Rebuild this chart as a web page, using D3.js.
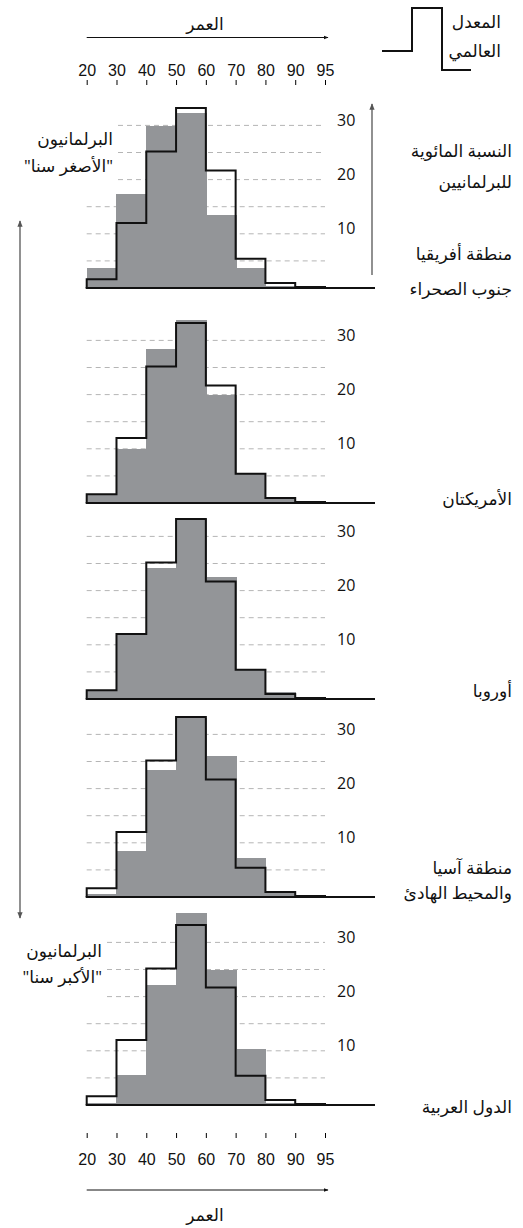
<!DOCTYPE html>
<html lang="ar">
<head>
<meta charset="utf-8">
<script src="https://cdn.jsdelivr.net/npm/d3@7"></script>
<style>
  body { margin: 0; background: #fff; }
  svg { display: block; font-family: "Open Sans", "DejaVu Sans", sans-serif; }
  .num { font-size: 16px; fill: #111; }
  .lbl { font-size: 17px; fill: #111; }
</style>
</head>
<body>
<div id="chart-area"></div>
<script>
// age bins 20-30 ... 90-95
const ageTicks = [20, 30, 40, 50, 60, 70, 80, 90, 95];

// world average (black step line), same in every panel
const world = [1.6, 12, 25.2, 33.2, 21.7, 5.4, 0.9, 0.2];

// regional shares (grey bars), percent of MPs
const africa   = [3.6, 17.3, 29.8, 32.2, 13.4, 3.7, 0.3, 0.1];
const americas = [1.5, 10.0, 28.5, 33.8, 20.0, 5.3, 1.0, 0.2];
const europe   = [1.6, 12.0, 24.1, 33.2, 22.5, 5.4, 1.2, 0.2];
const asia     = [0.6, 8.5, 23.4, 33.0, 26.0, 7.2, 0.8, 0.2];
const arab     = [0.3, 5.5, 22.1, 35.5, 25.0, 10.3, 0.3, 0.1];

const regionNames = [
  ["منطقة أفريقيا", "جنوب الصحراء"],
  ["الأمريكتان"],
  ["أوروبا"],
  ["منطقة آسيا", "والمحيط الهادئ"],
  ["الدول العربية"]
];
const regionValues = [africa, americas, europe, asia, arab];

const gridValues = [5, 10, 15, 20, 25, 30];
const labelValues = [10, 20, 30];

// layout
const w = 523, h = 1228;
const baselines = [288, 503, 699, 897, 1105];
const nameDy = [[-33, 2], [-3], [-7], [-28, -3], [3]];
const gridStartTop = [118, null, null, null, 107]; // where 20..30 lines start (room for side notes)
const unit = 5.42;

const svg = d3.select("#chart-area")
  .append("svg")
  .attr("width", w)
  .attr("height", h);

const defs = svg.append("defs");
function marker(id, color) {
  defs.append("marker")
    .attr("id", id)
    .attr("viewBox", "0 0 10 10")
    .attr("refX", 9).attr("refY", 5)
    .attr("markerWidth", 5).attr("markerHeight", 5)
    .attr("orient", "auto-start-reverse")
    .append("path")
    .attr("d", "M0,1 L10,5 L0,9 z")
    .attr("fill", color);
}
marker("ah-black", "#111");
marker("ah-grey", "#555");

const x = d3.scaleLinear().domain([0, 8]).range([86.7, 325]);
const bins = d3.range(8);

// top age axis
svg.append("text").attr("class", "lbl")
  .attr("x", 205).attr("y", 25).attr("dominant-baseline", "middle")
  .attr("text-anchor", "middle").text("العمر");
svg.append("line")
  .attr("x1", x(0)).attr("x2", 328).attr("y1", 37.5).attr("y2", 37.5)
  .attr("stroke", "#111").attr("stroke-width", 1)
  .attr("marker-end", "url(#ah-black)");

const topAxis = d3.axisTop(x)
  .tickValues(d3.range(9))
  .tickFormat(i => ageTicks[i])
  .tickSize(5)
  .tickPadding(4);
const gTop = svg.append("g").attr("transform", "translate(0,85)").call(topAxis);
gTop.select(".domain").remove();
gTop.selectAll("text").attr("class", "num").attr("font-size", null).attr("font-family", null);

const bottomAxis = d3.axisBottom(x)
  .tickValues(d3.range(9))
  .tickFormat(i => ageTicks[i])
  .tickSize(5)
  .tickPadding(16);
const gBot = svg.append("g").attr("transform", "translate(0,1133)").call(bottomAxis);
gBot.select(".domain").remove();
gBot.selectAll("text").attr("class", "num").attr("font-size", null).attr("font-family", null);

svg.append("line")
  .attr("x1", x(0)).attr("x2", 328).attr("y1", 1190).attr("y2", 1190)
  .attr("stroke", "#111").attr("stroke-width", 1)
  .attr("marker-end", "url(#ah-black)");
svg.append("text").attr("class", "lbl")
  .attr("x", 205).attr("y", 1216).attr("dominant-baseline", "middle")
  .attr("text-anchor", "middle").text("العمر");

// legend
const legendPts = [[382, 51], [412, 51], [412, 8], [442, 8], [442, 70], [471, 70]];
svg.append("path")
  .attr("d", d3.line()(legendPts))
  .attr("fill", "none").attr("stroke", "#111").attr("stroke-width", 2);
svg.append("text").attr("class", "lbl").attr("x", 501).attr("y", 23)
  .attr("dominant-baseline", "middle").attr("text-anchor", "end").text("المعدل");
svg.append("text").attr("class", "lbl").attr("x", 501).attr("y", 52)
  .attr("dominant-baseline", "middle").attr("text-anchor", "end").text("العالمي");

// panels
regionValues.forEach((vals, p) => {
  const base = baselines[p];
  const y = d3.scaleLinear().domain([0, 30]).range([base, base - 30 * unit]);
  const g = svg.append("g").attr("class", "panel");

  g.selectAll("line.grid")
    .data(gridValues)
    .enter()
    .append("line")
    .attr("class", "grid")
    .attr("x1", d => (d >= 20 && gridStartTop[p]) ? gridStartTop[p] : x(0))
    .attr("x2", x(8))
    .attr("y1", d => y(d)).attr("y2", d => y(d))
    .attr("stroke", "#b5b5b5").attr("stroke-width", 1)
    .attr("stroke-dasharray", "5,4");

  g.selectAll("text.ylab")
    .data(labelValues)
    .enter()
    .append("text")
    .attr("class", "num")
    .attr("x", 337)
    .attr("y", d => y(d) - 4)
    .attr("dominant-baseline", "middle")
    .text(d => d);

  g.selectAll("rect")
    .data(bins)
    .enter()
    .append("rect")
    .attr("x", i => x(i))
    .attr("width", i => x(i + 1) - x(i) + (i < 7 ? 1 : 0))
    .attr("y", i => y(vals[i]))
    .attr("height", i => y(0) - y(vals[i]))
    .attr("fill", "#939598")
    .attr("shape-rendering", "crispEdges");

  const pts = [[x(0), y(0)]];
  bins.forEach(i => { pts.push([x(i), y(world[i])]); pts.push([x(i + 1), y(world[i])]); });
  pts.push([x(8), y(0)]);
  g.append("path")
    .attr("d", d3.line()(pts))
    .attr("fill", "none").attr("stroke", "#111").attr("stroke-width", 2)
    .attr("stroke-linejoin", "miter");

  g.append("line")
    .attr("x1", x(0) - 1).attr("x2", 375)
    .attr("y1", y(0)).attr("y2", y(0))
    .attr("stroke", "#111").attr("stroke-width", 2);

  regionNames[p].forEach((t, k) => {
    g.append("text").attr("class", "lbl")
      .attr("x", 512).attr("y", base + nameDy[p][k])
      .attr("dominant-baseline", "middle").attr("text-anchor", "end")
      .text(t);
  });
});

// right side: percentage arrow
svg.append("line")
  .attr("x1", 372).attr("x2", 372).attr("y1", 275).attr("y2", 104)
  .attr("stroke", "#555").attr("stroke-width", 1.3)
  .attr("marker-end", "url(#ah-grey)");
svg.append("text").attr("class", "lbl").attr("x", 512).attr("y", 152)
  .attr("dominant-baseline", "middle").attr("text-anchor", "end").text("النسبة المائوية");
svg.append("text").attr("class", "lbl").attr("x", 512).attr("y", 183)
  .attr("dominant-baseline", "middle").attr("text-anchor", "end").text("للبرلمانيين");

// left side: younger / older arrow
svg.append("line")
  .attr("x1", 20).attr("x2", 20).attr("y1", 221).attr("y2", 918)
  .attr("stroke", "#555").attr("stroke-width", 1.3)
  .attr("marker-start", "url(#ah-grey)")
  .attr("marker-end", "url(#ah-grey)");

const notes = [
  { lines: ["البرلمانيون", "\"الأصغر سنا\""], x: 113, y: [140, 167] },
  { lines: ["البرلمانيون", "\"الأكبر سنا\""], x: 102, y: [952, 978] }
];
notes.forEach(n => {
  n.lines.forEach((t, k) => {
    svg.append("text").attr("class", "lbl")
      .attr("x", n.x).attr("y", n.y[k])
      .attr("dominant-baseline", "middle").attr("text-anchor", "end")
      .text(t);
  });
});
</script>
</body>
</html>
